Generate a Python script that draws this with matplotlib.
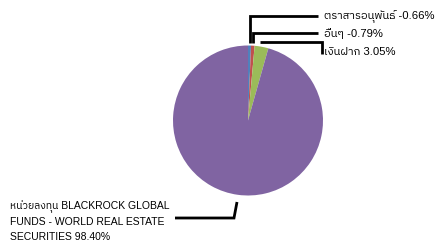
import numpy as np
import matplotlib.pyplot as plt
from matplotlib import font_manager

# data
labels = ['ตราสารอนุพันธ์ -0.66%', 'อื่นๆ -0.79%', 'เงินฝาก 3.05%',
          'หน่วยลงทุน BLACKROCK GLOBAL\nFUNDS - WORLD REAL ESTATE\nSECURITIES 98.40%']
values = [-0.66, -0.79, 3.05, 98.40]
colors = ['#4F81BD', '#C0504D', '#9BBB59', '#8064A2']

names = sorted({f.name for f in font_manager.fontManager.ttflist})
thai = [n for n in names if 'Thai' in n]
plt.rcParams['font.family'] = ['Liberation Sans'] + thai + ['DejaVu Sans']

H = 242
fig = plt.figure(figsize=(4.38, 2.42), dpi=100)
ax = fig.add_axes([0, 0, 1, 1])

cx, cy, r = 248, H - 120.5, 75
wedges, _ = ax.pie(np.abs(values), colors=colors, startangle=90, counterclock=False,
                   center=(cx, cy), radius=r, frame=True,
                   wedgeprops=dict(linewidth=0))
ax.set_xlim(0, 438)
ax.set_ylim(0, H)
ax.set_aspect('equal')
ax.axis('off')

def anchor(w):
    a = np.deg2rad((w.theta1 + w.theta2) / 2)
    return cx + r * np.cos(a), cy + r * np.sin(a)

lk = dict(color='black', lw=2, solid_capstyle='butt', solid_joinstyle='miter')
fs = 8.1

# top labels
x0, y0 = anchor(wedges[0])
ax.plot([x0, x0, 318], [y0 + 3, H - 16, H - 16], **lk)
ax.text(324, H - 17, labels[0], fontsize=fs, va='center', ha='left')

x1, y1 = anchor(wedges[1])
ax.plot([x1, x1, 318], [y1 + 3, H - 33, H - 33], **lk)
ax.text(324, H - 34, labels[1], fontsize=fs, va='center', ha='left')

x2, y2 = anchor(wedges[2])
ax.plot([x2 - 2, 322, 322], [H - 42, H - 42, H - 54], **lk)
ax.text(324, H - 52, labels[2], fontsize=fs, va='center', ha='left')

# bottom label
ax.plot([237, 234, 175], [H - 202, H - 218, H - 218], **lk)
ax.text(10, H - 221, labels[3], fontsize=7.5, va='center', ha='left', linespacing=1.55)

fig.savefig('out.png', dpi=100)
